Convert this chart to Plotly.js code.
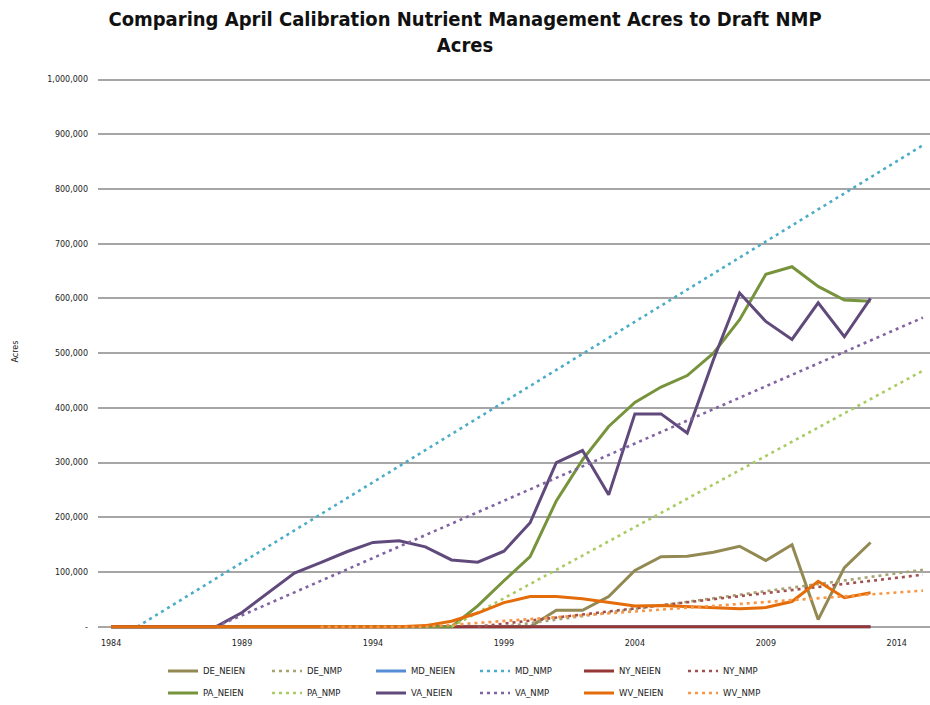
<!DOCTYPE html>
<html>
<head>
<meta charset="utf-8">
<script src="https://cdn.plot.ly/plotly-3.0.1.min.js"></script>
<style>html,body{margin:0;padding:0;background:#fff;}#chart{width:930px;height:705px;}</style>
</head>
<body>
<div id="chart"></div>
<script>
// Categories (years) for NEIEN series
const years = [1984,1985,1986,1987,1988,1989,1990,1991,1992,1993,1994,1995,1996,1997,1998,1999,2000,2001,2002,2003,2004,2005,2006,2007,2008,2009,2010,2011,2012,2013];

const DE_NEIEN = [0,0,0,0,0,0,0,0,0,0,0,0,0,0,0,0,0,30000,30000,55000,103000,128000,129000,136000,147000,121000,150000,13000,108000,154000];
const MD_NEIEN = [0,0,0,0,0,0,0,0,0,0,0,0,0,0,0,0,0,0,0,0,0,0,0,0,0,0,0,0,0,0];
const NY_NEIEN = [0,0,0,0,0,0,0,0,0,0,0,0,0,0,0,0,0,0,0,0,0,0,0,0,0,0,0,0,0,0];
const PA_NEIEN = [0,0,0,0,0,0,0,0,0,0,0,0,0,0,38000,84000,128000,230000,305000,366000,410000,438000,459000,500000,561000,644000,658000,622000,597000,595000];
const VA_NEIEN = [0,0,0,0,0,26000,62000,98000,117000,137000,154000,157000,146000,122000,118000,138000,190000,300000,322000,241000,389000,389000,354000,488000,610000,558000,525000,592000,530000,600000];
const WV_NEIEN = [0,0,0,0,0,0,0,0,0,0,0,0,2000,10000,25000,44000,55000,55000,51000,44000,38000,39000,37000,35000,33000,35000,46000,83000,53000,62000];

// Draft NMP series (straight ramps read at their end points)
const DE_NMP_years = [1999, 2015];  const DE_NMP = [0, 104000];
const MD_NMP_years = [1985, 2015];  const MD_NMP = [0, 880000];
const NY_NMP_years = [1998, 2015];  const NY_NMP = [0, 95000];
const PA_NMP_years = [1997, 2015];  const PA_NMP = [0, 468000];
const VA_NMP_years = [1988, 2015];  const VA_NMP = [0, 565000];
const WV_NMP_years = [1992, 1996, 2015]; const WV_NMP = [0, 0, 66000];

const xTicks = [1984, 1989, 1994, 1999, 2004, 2009, 2014];
const yTicks = [0,100000,200000,300000,400000,500000,600000,700000,800000,900000,1000000];
const yTickText = ['-','100,000','200,000','300,000','400,000','500,000','600,000','700,000','800,000','900,000','1,000,000'];

const DOT = '3px,4px';
function solid(name, x, y, color, leg) {
  return {type:'scatter', mode:'lines', name:name, x:x, y:y, legend:leg,
    line:{color:color, width:3}, hoverinfo:'skip'};
}
function dotted(name, x, y, color, leg) {
  return {type:'scatter', mode:'lines', name:name, x:x, y:y, legend:leg,
    line:{color:color, width:2.6, dash:DOT}, hoverinfo:'skip'};
}

const data = [
  solid('DE_NEIEN', years, DE_NEIEN, '#938953', 'legend'),
  dotted('DE_NMP', DE_NMP_years, DE_NMP, '#a8a272', 'legend'),
  solid('MD_NEIEN', years, MD_NEIEN, '#558ed5', 'legend'),
  dotted('MD_NMP', MD_NMP_years, MD_NMP, '#4bacc6', 'legend'),
  solid('NY_NEIEN', years, NY_NEIEN, '#953735', 'legend'),
  dotted('NY_NMP', NY_NMP_years, NY_NMP, '#a0504e', 'legend'),
  solid('PA_NEIEN', years, PA_NEIEN, '#77933c', 'legend2'),
  dotted('PA_NMP', PA_NMP_years, PA_NMP, '#a9cb62', 'legend2'),
  solid('VA_NEIEN', years, VA_NEIEN, '#604a7b', 'legend2'),
  dotted('VA_NMP', VA_NMP_years, VA_NMP, '#8064a2', 'legend2'),
  solid('WV_NEIEN', years, WV_NEIEN, '#e46c0a', 'legend2'),
  dotted('WV_NMP', WV_NMP_years, WV_NMP, '#f79646', 'legend2')
];

const smallFont = {family:'DejaVu Sans, sans-serif', size:8, color:'#222'};
const legendCommon = {
  orientation:'h', xref:'container', yref:'container', x:163/930, xanchor:'left',
  yanchor:'middle', entrywidth:59, entrywidthmode:'pixels', itemwidth:30,
  font:{family:'DejaVu Sans, sans-serif', size:8.5, color:'#222'},
  bgcolor:'rgba(0,0,0,0)', borderwidth:0, tracegroupgap:0, traceorder:'normal'
};

const layout = {
  width:930, height:705,
  paper_bgcolor:'#ffffff', plot_bgcolor:'#ffffff',
  margin:{l:98, r:0, t:73, b:75},
  title:{
    text:'<b>Comparing April Calibration Nutrient Management Acres to Draft NMP<br>Acres</b>',
    font:{family:'DejaVu Sans Condensed, DejaVu Sans, sans-serif', size:20, color:'#111'},
    xref:'container', x:0.5, xanchor:'center', yref:'container', y:1-26/705, yanchor:'top'
  },
  xaxis:{
    range:[1983.5, 2015.27], tickmode:'array', tickvals:xTicks, ticktext:xTicks.map(String),
    showgrid:false, zeroline:false, showline:false, ticks:'', tickfont:smallFont,
    ticklabelstandoff:7, fixedrange:true
  },
  yaxis:{
    range:[-6000, 1012000], tickmode:'array', tickvals:yTicks, ticktext:yTickText,
    showgrid:true, gridcolor:'#a6a6a6', gridwidth:2, zeroline:false, showline:false,
    ticks:'', tickfont:smallFont, ticklabelstandoff:9,
    title:{text:'Acres', font:{family:'DejaVu Sans, sans-serif', size:8, color:'#222'}, standoff:27},
    fixedrange:true
  },
  legend:Object.assign({}, legendCommon, {y:1-671/705}),
  legend2:Object.assign({}, legendCommon, {y:1-693/705}),
  showlegend:true
};

Plotly.newPlot('chart', data, layout, {displayModeBar:false, staticPlot:true});
</script>
</body>
</html>
